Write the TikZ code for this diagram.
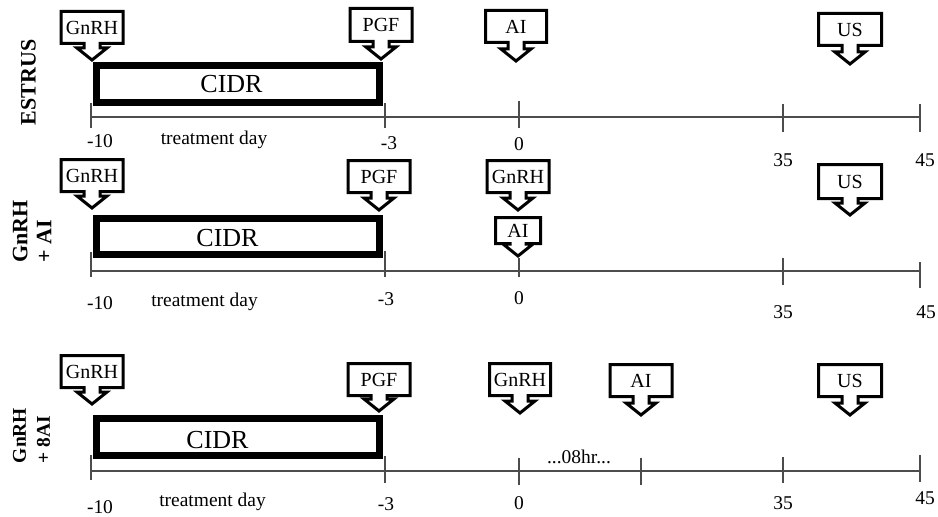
\documentclass[tikz,border=0pt]{standalone}
\usepackage{fontspec}
\setmainfont{Liberation Serif}
\tikzset{
  callbox/.style={draw=black, fill=white, line width=2.25pt, line join=miter},
  calltext/.style={font=\fontsize{15}{18}\selectfont, inner sep=0pt},
  cidrbox/.style={draw=black, line width=4.9pt},
  cidrtext/.style={font=\fontsize{19.5}{22}\selectfont, inner sep=0pt},
  axisline/.style={draw=black!70, line width=0.9pt},
  ticklab/.style={font=\fontsize{14.6}{17}\selectfont, inner sep=0pt},
  sidelab/.style={font=\bfseries\fontsize{16.5}{18}\selectfont, rotate=90, align=left, inner sep=0pt},
}
% #1 name, #2 centre x, #3 box top, #4 box bottom, #5 tip y, #6 box width, #7 text
\newcommand\mycallout[7]{%
  \draw[callbox] ({#2-#6/2+1.5},{#3+1.5}) -- ({#2+#6/2-1.5},{#3+1.5})
    -- ({#2+#6/2-1.5},{#4-1.5}) -- ({#2+8},{#4-1.5}) -- ({#2+8},{#5-14})
    -- ({#2+15},{#5-14}) -- ({#2},{#5-2}) -- ({#2-15},{#5-14})
    -- ({#2-8},{#5-14}) -- ({#2-8},{#4-1.5}) -- ({#2-#6/2+1.5},{#4-1.5}) -- cycle;
  \node[calltext] (#1) at ({#2},{(#3+#4)/2}) {#7};
}
\begin{document}
\begin{tikzpicture}[x=0.75pt, y=-0.75pt]
\useasboundingbox (0,0) rectangle (938,517);

% ---------- Row 1: ESTRUS ----------
\node[sidelab] (s1) at (28.5,82.5) {ESTRUS};
\draw[axisline] (91,117) -- (920,117);
\foreach \x/\a/\b in {91/103/128, 385/103/128, 519/101/128, 783/104/132, 920/104/132}
  \draw[axisline] (\x,\a) -- (\x,\b);
\draw[cidrbox] (96.3,65.3) rectangle (379.7,102.7);
\node[cidrtext] (c1) at (231.5,84) {CIDR};
\mycallout{g1}{92}{10}{45}{62}{65}{GnRH}
\mycallout{p1}{381}{7}{43}{61}{65}{PGF}
\mycallout{a1}{516}{9}{44}{63}{64}{AI}
\mycallout{u1}{850}{12}{47}{66}{66}{US}
\node[ticklab] (l1a) at (100,141) {-10};
\node[ticklab, anchor=base] (l1b) at (214,144.5) {treatment day};
\node[ticklab] (l1c) at (389,143) {-3};
\node[ticklab] (l1d) at (519,144) {0};
\node[ticklab] (l1e) at (783,160) {35};
\node[ticklab] (l1f) at (925,160) {45};

% ---------- Row 2: GnRH + AI ----------
\node[sidelab] (s2) at (32,231.5) {GnRH\\+ AI};
\draw[axisline] (91,271) -- (920,271);
\foreach \x/\a/\b in {91/252/277, 385/251/277, 519/258/277, 783/258/285, 920/262/288}
  \draw[axisline] (\x,\a) -- (\x,\b);
\draw[cidrbox] (96.3,218.3) rectangle (379.7,254.7);
\node[cidrtext] (c2) at (227.5,238) {CIDR};
\mycallout{g2}{92}{158}{193}{210}{65}{GnRH}
\mycallout{p2}{379}{159}{194}{212}{65}{PGF}
\mycallout{g2b}{518}{159}{194}{212}{65}{GnRH}
\mycallout{a2}{518}{216}{245}{258}{48}{AI}
\mycallout{u2}{850}{163}{200}{217}{66}{US}
\node[ticklab] (l2a) at (100,303) {-10};
\node[ticklab, anchor=base] (l2b) at (204.5,306.5) {treatment day};
\node[ticklab] (l2c) at (386,299) {-3};
\node[ticklab] (l2d) at (519,298) {0};
\node[ticklab] (l2e) at (783,312) {35};
\node[ticklab] (l2f) at (926,312) {45};

% ---------- Row 3: GnRH + 8AI ----------
\node[sidelab, font=\bfseries\fontsize{14.6}{18}\selectfont] (s3) at (31.5,435.5) {GnRH\\+ 8AI};
\draw[axisline] (91,471) -- (920,471);
\foreach \x/\a/\b in {91/455/480, 385/456/483, 519/458/485, 641/458/485, 783/457/483, 920/455/482}
  \draw[axisline] (\x,\a) -- (\x,\b);
\draw[cidrbox] (96.3,418.3) rectangle (379.7,455.7);
\node[cidrtext] (c3) at (217.5,440.5) {CIDR};
\mycallout{g3}{92}{354}{389}{406}{65}{GnRH}
\mycallout{p3}{379}{362}{397}{413}{65}{PGF}
\mycallout{g3b}{520}{362}{397}{415}{64}{GnRH}
\mycallout{a3}{641}{363}{398}{417}{65}{AI}
\mycallout{u3}{850}{363}{398}{417}{66}{US}
\node[ticklab, anchor=base] (hr) at (579,463) {...08hr...};
\node[ticklab] (l3a) at (100,507) {-10};
\node[ticklab, anchor=base] (l3b) at (212.5,506.5) {treatment day};
\node[ticklab] (l3c) at (386,504) {-3};
\node[ticklab] (l3d) at (519,503) {0};
\node[ticklab] (l3e) at (783,503) {35};
\node[ticklab] (l3f) at (925,498) {45};
\end{tikzpicture}
\end{document}
